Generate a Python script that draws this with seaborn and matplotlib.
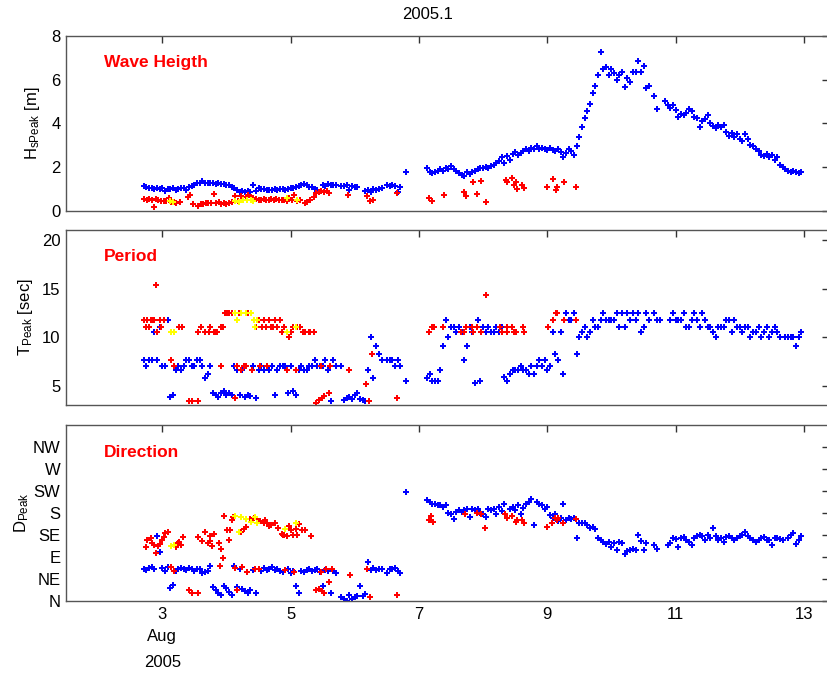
import numpy as np
import pandas as pd
import matplotlib
matplotlib.use("Agg")
import matplotlib.pyplot as plt
import seaborn as sns

nan = np.nan

# hourly record, Aug 2 17:00 .. Aug 12 23:00
hours = pd.date_range("2005-08-02 17:00", "2005-08-12 23:00", freq="h")
day = hours.day + hours.hour / 24.0

# main (blue) peak
hs_main = [
    1.15, 1.1, 1.05, 1.05, 1.0, 1.05, 1.0, 1.05, 0.9, 1.0,
    1.0, 1.05, 0.95, 1.0, 1.05, 1.05, 0.95, 1.1, 1.15, 1.2,
    1.3, 1.3, 1.35, 1.3, 1.3, 1.3, 1.3, 1.25, 1.3, 1.25,
    1.25, 1.2, 1.2, 1.1, 1.05, 0.95, 0.85, 0.9, 0.85, 0.9,
    0.85, 1.2, 0.9, 1.05, 1.0, 1.0, 0.95, 0.95, 0.95, 1.0,
    0.95, 1.0, 1.0, 0.95, 1.0, 1.05, 1.05, 1.1, 1.15, 1.2,
    1.25, 1.2, 1.1, 1.1, 1.0, 0.95, nan, 1.2, 1.15, 1.25,
    1.2, 1.2, 1.2, nan, 1.15, 1.15, 1.2, 0.95, 1.15, 1.1,
    1.1, nan, nan, 0.9, 0.95, 0.85, 1.0, 0.95, 1.0, 1.05,
    nan, 1.2, 1.15, 1.2, 1.15, 0.85, 1.1, nan, 1.78, nan,
    nan, nan, nan, nan, nan, nan, 1.95, 1.8, 1.75, 1.8,
    1.85, 1.9, 1.85, 1.95, 1.9, 2.05, 1.9, 1.85, 1.75, 1.65,
    1.6, 1.8, 1.7, 1.8, 1.85, 1.9, 1.95, 1.95, 2.0, 1.95,
    2.05, 2.1, 2.2, 2.3, 2.45, 2.2, 2.5, 2.35, 2.6, 2.7,
    2.55, 2.65, 2.75, 2.85, 2.75, 2.9, 2.85, 2.95, 2.85, 2.9,
    2.85, 2.8, 2.9, 2.8, 2.75, 2.85, 2.7, 2.45, 2.65, 2.85,
    2.75, 2.55, 2.95, 3.4, 3.85, 4.25, 4.55, 4.9, 5.4, 5.7,
    6.2, 7.25, 6.5, 6.6, 6.2, 6.5, 6.3, 6.0, 6.2, 6.35,
    5.65, 6.1, 5.9, 6.35, 6.35, 6.85, 6.35, 6.65, 5.6, 5.7,
    nan, 5.25, 4.65, nan, nan, 5.05, 4.85, 4.7, 4.85, 4.6,
    4.3, 4.45, 4.4, 4.5, 4.65, 4.55, 4.3, 4.25, 3.85, 4.1,
    4.2, 4.4, 4.0, 3.9, 3.8, 3.95, 3.85, 3.95, 3.6, 3.45,
    3.55, 3.4, 3.5, 3.3, 3.2, 3.5, 3.3, 3.0, 2.95, 2.85,
    2.75, 2.55, 2.5, 2.6, 2.45, 2.55, 2.35, 2.45, 2.1, 2.0,
    1.9, 1.85, 1.8, 1.85, 1.8, 1.75, 1.8]

tp_main = [
    7.7, 7.1, 7.7, 7.7, 10.5, 7.7, 11.1, 7.1, 7.1, 11.8,
    3.9, 4.1, 6.6, 7.1, 6.6, 7.1, 7.7, 7.7, 7.1, 7.1,
    7.7, 7.7, 7.1, 5.8, 6.2, 7.1, 4.3, 4.1, 3.9, 4.3,
    4.5, 4.1, 4.3, 4.1, 7.1, 6.6, 4.1, 6.6, 3.9, 4.1,
    4.0, 7.1, 3.8, 6.6, 7.1, 6.6, 7.1, 6.6, 7.1, 4.1,
    6.6, 7.1, 7.1, 7.1, 4.3, 7.1, 4.5, 4.1, 6.6, 7.1,
    6.6, 6.6, 7.1, 7.1, 7.7, 7.1, 7.1, 7.1, 7.7, 6.6,
    3.5, 7.7, 7.1, nan, 7.1, 3.6, 3.8, 3.9, 3.7, 4.1,
    4.3, 3.7, 3.6, 3.5, 6.6, 10.0, 5.8, 9.1, 8.3, 7.7,
    nan, 7.7, 7.7, 7.7, 7.1, 7.7, 7.1, nan, 5.5, nan,
    nan, nan, nan, nan, nan, nan, 5.8, 6.2, 5.5, 5.5,
    5.5, 6.6, 9.1, 11.8, 10.0, 11.1, 11.1, 10.5, 11.1, 10.5,
    7.7, 9.1, 11.1, 10.5, 5.3, 11.8, 5.5, 11.1, 10.5, 11.1,
    10.5, 10.5, 11.1, 10.5, 11.1, 5.9, 5.5, 6.2, 6.6, 6.6,
    6.6, 7.1, 6.6, 6.6, 6.2, 7.1, 6.2, 7.1, 7.7, 7.1,
    7.7, 6.6, 7.1, 10.5, 8.3, 7.7, 10.5, 6.2, 12.5, 11.8,
    11.8, 12.5, 8.3, 10.0, 10.5, 11.1, 10.0, 10.5, 11.8, 11.1,
    11.1, 11.8, 12.5, 11.8, 11.8, 11.8, 11.8, 12.5, 11.1, 12.5,
    11.1, 12.5, 11.8, 12.5, 11.8, 12.5, 10.5, 11.1, 12.5, 11.8,
    nan, 12.5, 11.8, 11.8, nan, nan, nan, 11.8, 12.5, 11.8,
    11.8, 11.8, 12.5, 11.1, 11.1, 11.8, 12.5, 11.8, 11.1, 12.5,
    11.8, 11.1, 11.1, 10.5, 10.0, 11.1, 11.1, 11.1, 11.8, 11.8,
    10.5, 11.8, 11.1, 11.1, 10.5, 11.1, 11.1, 10.0, 10.5, 10.5,
    11.1, 10.0, 10.5, 11.1, 10.0, 10.5, 11.1, 10.5, 10.0, nan,
    10.0, 10.0, 10.0, 10.0, 9.1, 10.0, 10.5]

dp_main = [
    65, 63, 67, 70, 66, 133, 101, 67, 62, 70,
    26, 32, 62, 66, 67, 66, 64, 67, 65, 62,
    66, 65, 57, 60, 62, 72, 29, 22, 16, 13,
    30, 26, 18, 13, 72, 28, 66, 24, 20, 16,
    22, 63, 17, 66, 62, 68, 64, 66, 70, 64,
    66, 62, 60, 64, 66, 58, 62, 31, 17, 62,
    60, 63, 65, 62, 64, 66, 60, 30, 64, 62,
    16, 62, 58, nan, 9, 4, 1, 12, 5, 8,
    10, 31, 10, 14, 80, 64, 68, 63, 66, 65,
    nan, 58, 66, 65, 67, 62, 58, nan, 222, nan,
    nan, nan, nan, nan, nan, nan, 206, 202, 199, 198,
    196, 196, 193, 196, 179, 177, 168, 183, 186, 183,
    186, 189, 172, 189, 186, 189, 179, 178, 172, 189,
    186, 188, 177, 192, 184, 199, 170, 188, 193, 186,
    196, 178, 190, 198, 203, 208, 156, 203, 199, 197,
    188, 193, 176, 170, 178, 163, 169, 199, 166, 170,
    168, 170, 128, 160, 159, 159, 156, 149, 152, 147,
    128, 125, 121, 117, 121, 110, 119, 104, 121, 119,
    97, 103, 104, 106, 104, 135, 122, 104, 119, nan,
    nan, 114, 107, nan, nan, nan, 114, 118, 128, 126,
    110, 128, 130, 124, 121, 114, 128, 133, 135, 133,
    124, 135, 128, 149, 133, 124, 128, 121, 130, 133,
    128, 124, 128, 133, 135, 142, 133, 128, 124, 121,
    124, 128, 130, 124, 124, 114, 128, 128, 126, 124,
    nan, 128, 135, 139, 117, 124, 133]

# secondary peak (red)
hs2_day = [2.72, 2.76, 2.80, 2.84, 2.87, 2.90, 2.94, 2.98, 3.02, 3.06,
           3.10, 3.14, 3.18, 3.22, 3.28, 3.40, 3.44, 3.48, 3.55, 3.60,
           3.64, 3.68, 3.72, 3.76, 3.80, 3.84, 3.88, 3.92, 3.96, 4.00,
           4.04, 4.08, 4.14, 4.18, 4.22, 4.26, 4.30, 4.34, 4.38, 4.42,
           4.46, 4.50, 4.54, 4.58, 4.62, 4.66, 4.70, 4.74, 4.78, 4.82,
           4.86, 4.90, 4.94, 4.98, 5.02, 5.06, 5.10, 5.14, 5.22, 5.26,
           5.30, 5.36, 5.40, 5.44, 5.48, 5.52, 5.56, 5.60, 5.90, 6.19,
           6.24, 6.28, 6.66, 7.16, 7.21, 7.39, 7.70, 7.74, 7.85, 7.91,
           7.97, 8.04, 8.35, 8.38, 8.45, 8.48, 8.52, 8.53, 8.61, 8.64,
           9.00, 9.09, 9.13, 9.15, 9.26, 9.45]
hs2 = [0.53, 0.5, 0.55, 0.48, 0.17, 0.55, 0.5, 0.45, 0.47, 0.45,
       0.6, 0.4, 0.42, 0.38, 0.4, 0.65, 0.75, 0.3, 0.25, 0.32,
       0.3, 0.35, 0.36, 0.38, 0.78, 0.35, 0.4, 0.33, 0.35, 0.33,
       0.37, 0.4, 0.68, 0.45, 0.7, 0.5, 0.65, 0.72, 0.66, 0.58,
       0.55, 0.5, 0.5, 0.55, 0.5, 0.52, 0.55, 0.5, 0.55, 0.5,
       0.52, 0.5, 0.45, 0.6, 0.5, 0.75, 0.45, 0.48, 0.35, 0.4,
       0.5, 0.65, 0.8, 0.88, 0.9, 0.85, 0.9, 0.8, 0.75, 0.7,
       0.45, 0.5, 0.8, 0.61, 0.46, 0.73, 0.88, 0.7, 1.34, 0.78,
       1.39, 0.4, 1.42, 1.34, 1.5, 1.19, 1.34, 1.0, 1.19, 1.04,
       1.08, 1.46, 0.96, 1.11, 1.34, 1.11]

tp2_day = [2.71, 2.74, 2.77, 2.79, 2.82, 2.84, 2.87, 2.91, 2.92, 2.97,
           2.98, 3.03, 3.13, 3.18, 3.18, 3.26, 3.31, 3.42, 3.47, 3.55,
           3.55, 3.60, 3.67, 3.73, 3.74, 3.80, 3.84, 3.86, 3.91, 3.91,
           3.95, 3.98, 4.01, 4.04, 4.08, 4.14, 4.17, 4.20, 4.22, 4.28,
           4.31, 4.34, 4.40, 4.43, 4.46, 4.50, 4.53, 4.56, 4.59, 4.62,
           4.64, 4.67, 4.70, 4.73, 4.76, 4.79, 4.84, 4.87, 4.90, 4.95,
           4.97, 5.00, 5.03, 5.08, 5.10, 5.15, 5.20, 5.23, 5.28, 5.31,
           5.36, 5.39, 5.44, 5.47, 5.49, 5.52, 5.60, 5.62, 5.91, 6.17,
           6.22, 6.27, 6.66, 7.16, 7.20, 7.23, 7.38, 7.66, 7.70, 7.74,
           7.83, 7.85, 7.91, 7.97, 8.04, 8.27, 8.30, 8.37, 8.38, 8.45,
           8.48, 8.52, 8.62, 8.64, 9.01, 9.09, 9.13, 9.15, 9.26, 9.45]
tp2 = [11.8, 11.1, 11.8, 11.1, 11.8, 11.8, 11.8, 15.4, 10.5, 11.8,
       11.1, 11.8, 7.7, 10.5, 7.1, 11.1, 11.1, 3.5, 3.5, 3.5,
       10.5, 11.1, 10.5, 10.5, 11.1, 10.5, 10.5, 10.5, 7.1, 11.1,
       11.1, 12.5, 12.5, 12.5, 12.5, 3.8, 7.1, 12.5, 6.6, 7.1,
       7.1, 12.5, 6.6, 11.8, 11.1, 11.8, 7.1, 11.1, 11.8, 11.1,
       7.1, 11.8, 11.1, 11.1, 11.8, 11.1, 11.8, 10.5, 11.1, 6.6,
       10.0, 10.5, 11.1, 6.6, 11.1, 11.1, 10.5, 10.5, 10.5, 10.5,
       10.5, 3.3, 3.6, 7.1, 3.8, 4.0, 4.3, 7.1, 6.6, 5.2,
       3.5, 8.3, 3.8, 10.5, 11.1, 11.1, 11.1, 10.5, 10.5, 11.1,
       11.1, 10.5, 11.1, 10.5, 14.3, 11.1, 10.5, 11.1, 10.5, 11.1,
       10.5, 10.5, 11.1, 10.5, 11.1, 11.8, 12.5, 12.5, 11.8, 11.8]

dp2_day = [2.74, 2.76, 2.82, 2.84, 2.87, 2.90, 2.93, 2.97, 3.00, 3.03,
           3.05, 3.09, 3.13, 3.18, 3.21, 3.24, 3.26, 3.29, 3.33, 3.42,
           3.47, 3.55, 3.55, 3.62, 3.67, 3.71, 3.74, 3.75, 3.78, 3.80,
           3.88, 3.90, 3.91, 3.95, 3.96, 4.01, 4.04, 4.06, 4.09, 4.11,
           4.14, 4.17, 4.22, 4.25, 4.27, 4.30, 4.32, 4.37, 4.40, 4.43,
           4.45, 4.48, 4.50, 4.53, 4.58, 4.60, 4.63, 4.66, 4.70, 4.75,
           4.80, 4.86, 4.88, 4.90, 4.92, 4.95, 4.98, 5.00, 5.03, 5.05,
           5.08, 5.10, 5.13, 5.18, 5.22, 5.32, 5.39, 5.44, 5.47, 5.49,
           5.52, 5.55, 5.60, 5.65, 5.92, 6.19, 6.23, 6.66, 7.15, 7.19,
           7.22, 7.72, 7.90, 7.97, 8.03, 8.34, 8.37, 8.45, 8.51, 8.53,
           8.60, 8.63, 9.00, 9.07, 9.12, 9.15, 9.17, 9.25, 9.44]
dp2 = [111, 125, 128, 118, 114, 99, 112, 116, 125, 131,
       139, 141, 70, 62, 111, 118, 121, 114, 130, 22,
       16, 17, 131, 123, 141, 118, 133, 122, 113, 138,
       118, 72, 107, 88, 174, 145, 125, 145, 166, 171,
       67, 22, 141, 70, 148, 152, 60, 167, 166, 170,
       65, 167, 65, 163, 160, 166, 159, 154, 155, 159,
       149, 138, 135, 135, 63, 132, 154, 145, 135, 60,
       148, 135, 157, 145, 145, 133, 22, 25, 60, 20,
       16, 66, 38, 66, 53, 65, 8, 12, 166, 174,
       162, 177, 180, 178, 149, 177, 169, 174, 162, 166,
       166, 160, 152, 160, 170, 166, 170, 159, 167]

# third peak (yellow)
hs3_day = [3.12, 3.17, 4.14, 4.20, 4.26, 4.32, 4.38, 4.42, 4.95, 5.10]
hs3 = [0.45, 0.42, 0.45, 0.42, 0.5, 0.48, 0.52, 0.45, 0.58, 0.5]
tp3_day = [3.13, 3.18, 4.14, 4.17, 4.22, 4.30, 4.38, 4.43, 4.45, 4.48, 4.95, 5.08]
tp3 = [10.5, 10.5, 12.5, 11.8, 12.5, 12.5, 12.5, 11.8, 11.1, 11.8, 10.5, 11.1]
dp3_day = [3.13, 3.18, 4.14, 4.20, 4.22, 4.30, 4.38, 4.45, 4.48, 4.92, 5.08]
dp3 = [112, 115, 174, 141, 172, 168, 162, 171, 160, 148, 159]

dir_ticks = [0, 45, 90, 135, 180, 225, 270, 315]
dir_labels = ["N", "NE", "E", "SE", "S", "SW", "W", "NW"]

main = pd.DataFrame({"day": day, "hs": hs_main, "tp": tp_main, "dp": dp_main})

sns.set_style("white", {"xtick.direction": "in", "ytick.direction": "in"})
plt.rcParams["font.family"] = ["Liberation Sans", "DejaVu Sans"]
plt.rcParams["mathtext.default"] = "regular"
plt.rcParams["text.color"] = "black"

fig = plt.figure(figsize=(8.28, 6.73), dpi=100)
axes = [fig.add_axes([0.0797, 0.6865, 0.9215, 0.26]),
        fig.add_axes([0.0797, 0.3982, 0.9215, 0.26]),
        fig.add_axes([0.0797, 0.1070, 0.9215, 0.2615])]

panels = [("hs", hs2_day, hs2, hs3_day, hs3),
          ("tp", tp2_day, tp2, tp3_day, tp3),
          ("dp", dp2_day, dp2, dp3_day, dp3)]
mk = dict(marker="P", s=20, linewidth=0, legend=False)
for ax, (col, d2, v2, d3, v3) in zip(axes, panels):
    sns.scatterplot(data=main, x="day", y=col, color="#0000ff", ax=ax, **mk)
    sns.scatterplot(x=d2, y=v2, color="#ff0000", ax=ax, **mk)
    sns.scatterplot(x=d3, y=v3, color="#ffff00", ax=ax, **mk)
    ax.set_xlim(1.5, 13.39)
    ax.set_xticks([3, 5, 7, 9, 11, 13])
    ax.tick_params(top=True, right=True, direction="in", length=5,
                   width=1, color="#333333", labelcolor="black",
                   labelsize=12, pad=4)
    for s in ax.spines.values():
        s.set_color("#555555")
        s.set_linewidth(1)
    ax.set_xlabel("")

axes[0].set_ylim(0, 8)
axes[0].set_yticks([0, 2, 4, 6, 8])
axes[0].set_ylabel("H$_{sPeak}$ [m]", fontsize=12, color="black")
axes[1].set_ylim(3.05, 21)
axes[1].set_yticks([5, 10, 15, 20])
axes[1].set_ylabel("T$_{Peak}$ [sec]", fontsize=12, color="black")
axes[2].set_ylim(0, 360)
axes[2].set_yticks(dir_ticks)
axes[2].set_yticklabels(dir_labels)
axes[2].set_ylabel("D$_{Peak}$", fontsize=12, color="black")
axes[0].yaxis.set_label_coords(-0.032, 0.5)
axes[1].yaxis.set_label_coords(-0.040, 0.5)
axes[2].yaxis.set_label_coords(-0.046, 0.5)

for ax in axes[:2]:
    ax.set_xticklabels([])
axes[2].set_xticklabels(["3", "5", "7", "9", "11", "13"])
tr = axes[2].get_xaxis_transform()
axes[2].text(3, -0.199, "Aug", transform=tr, ha="center", va="center", fontsize=12)
axes[2].text(3, -0.347, "2005", transform=tr, ha="center", va="center", fontsize=12)

for ax, name in zip(axes, ["Wave Heigth", "Period", "Direction"]):
    ax.text(0.05, 0.846, name, transform=ax.transAxes, color="#ff0000",
            fontsize=12.5, fontweight="bold", va="center", ha="left")

fig.text(0.516, 0.978, "2005.1", ha="center", va="center", fontsize=12)

fig.savefig("out.png", dpi=100)
